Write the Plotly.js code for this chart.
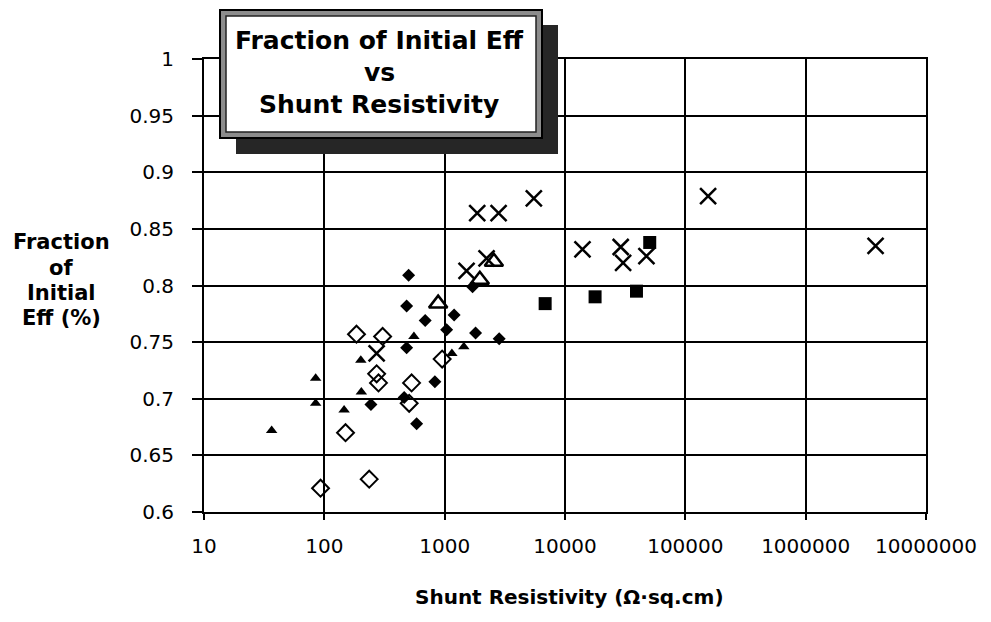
<!DOCTYPE html>
<html>
<head>
<meta charset="utf-8">
<script src="https://cdn.plot.ly/plotly-3.0.1.min.js"></script>
<style>html,body{margin:0;padding:0;background:#fff;}#chart{width:991px;height:622px;}</style>
</head>
<body>
<div id="chart"></div>
<script>
// ---- data ----
const triFilledX = [36.5, 84.7, 84.7, 146, 201, 203, 555, 1148, 1443];
const triFilledY = [0.672, 0.718, 0.696, 0.690, 0.734, 0.706, 0.755, 0.740, 0.746];

const diaFilledX = [502, 483, 689, 1199, 1038, 1807, 2838, 483, 829, 244, 461, 585, 1706];
const diaFilledY = [0.809, 0.782, 0.769, 0.774, 0.761, 0.758, 0.753, 0.745, 0.715, 0.695, 0.701, 0.678, 0.799];

const diaOpenX = [185, 305, 272, 282, 531, 507, 953, 150, 93, 236];
const diaOpenY = [0.757, 0.755, 0.722, 0.714, 0.714, 0.696, 0.735, 0.670, 0.621, 0.629];

const crossX = [272, 1520, 2229, 1864, 2806, 5508, 13970, 29040, 30400, 47500, 154600, 3810000];
const crossY = [0.740, 0.813, 0.824, 0.864, 0.864, 0.877, 0.832, 0.834, 0.820, 0.826, 0.879, 0.835];

const triOpenX = [883, 1960, 2565];
const triOpenY = [0.784, 0.805, 0.821];

const squareX = [6840, 17780, 39260, 50600];
const squareY = [0.784, 0.790, 0.795, 0.838];

const xTickVals = [10, 100, 1000, 10000, 100000, 1000000, 10000000];
const xTickText = ["10", "100", "1000", "10000", "100000", "1000000", "10000000"];
const yTickVals = [0.6, 0.65, 0.7, 0.75, 0.8, 0.85, 0.9, 0.95, 1];
const yTickText = ["0.6", "0.65", "0.7", "0.75", "0.8", "0.85", "0.9", "0.95", "1"];

const titleLines = ["Fraction of Initial Eff", "vs", "Shunt Resistivity"];
const xTitle = "Shunt Resistivity (Ω·sq.cm)";
const yTitleLines = ["Fraction", "of", "Initial", "Eff (%)"];

// ---- layout helpers (pixel -> paper) ----
const L = 204, R = 926, T = 59, B = 512, W = 991, H = 622;
const xp = px => (px - L) / (R - L);
const yp = py => (B - py) / (B - T);

const boldFont = "'DejaVu Sans', 'Liberation Sans', sans-serif";
const tickFont = "'DejaVu Sans', 'Liberation Sans', sans-serif";

function tr(x, y, symbol, size, lw) {
  return {
    x: x, y: y, type: 'scatter', mode: 'markers', hoverinfo: 'skip',
    marker: { symbol: symbol, size: size, color: '#000', line: { color: '#000', width: lw } }
  };
}

const data = [
  tr(triFilledX, triFilledY, 'triangle-up', 10, 0),
  tr(diaFilledX, diaFilledY, 'diamond', 10, 0),
  tr(diaOpenX, diaOpenY, 'diamond-open', 13, 2),
  tr(crossX, crossY, 'x-thin-open', 16, 2.5),
  tr(triOpenX, triOpenY, 'triangle-up-open', 16, 2.5),
  tr(squareX, squareY, 'square', 13, 0)
];

const shapes = [
  // shadow
  { type: 'rect', xref: 'paper', yref: 'paper', layer: 'above',
    x0: xp(236), x1: xp(558), y0: yp(154), y1: yp(25),
    fillcolor: '#262626', line: { width: 0 } },
  // outer patterned border
  { type: 'rect', xref: 'paper', yref: 'paper', layer: 'above',
    x0: xp(220), x1: xp(542), y0: yp(138), y1: yp(10),
    fillcolor: '#8c8c8c', line: { color: '#000', width: 2 } },
  // inner white box
  { type: 'rect', xref: 'paper', yref: 'paper', layer: 'above',
    x0: xp(226), x1: xp(536), y0: yp(132), y1: yp(16),
    fillcolor: '#fff', line: { color: '#222', width: 1.5 } }
];

const annotations = [];
const titleY = [40, 72, 105];
titleLines.forEach((t, i) => annotations.push({
  xref: 'paper', yref: 'paper', x: xp(379), y: yp(titleY[i]), xanchor: 'center', yanchor: 'middle',
  showarrow: false, text: '<b>' + t + '</b>', font: { family: boldFont, size: 25, color: '#000' }
}));
const yTitleY = [242, 268, 293, 318];
yTitleLines.forEach((t, i) => annotations.push({
  xref: 'paper', yref: 'paper', x: xp(61), y: yp(yTitleY[i]), xanchor: 'center', yanchor: 'middle',
  showarrow: false, text: '<b>' + t + '</b>', font: { family: boldFont, size: 21, color: '#000' }
}));
annotations.push({
  xref: 'paper', yref: 'paper', x: xp(569), y: yp(597), xanchor: 'center', yanchor: 'middle',
  showarrow: false, text: '<b>' + xTitle + '</b>', font: { family: boldFont, size: 20, color: '#000' }
});

const layout = {
  width: W, height: H,
  margin: { l: L, r: W - R, t: T, b: H - B, pad: 0 },
  paper_bgcolor: '#fff', plot_bgcolor: '#fff',
  showlegend: false,
  xaxis: {
    type: 'log', range: [1, 7],
    tickvals: xTickVals, ticktext: xTickText,
    showgrid: true, gridcolor: '#000', gridwidth: 2,
    showline: true, linecolor: '#000', linewidth: 2, mirror: true,
    ticks: 'outside', ticklen: 6, tickwidth: 2, tickcolor: '#000',
    ticklabelstandoff: 9,
    tickfont: { family: tickFont, size: 20, color: '#000' },
    zeroline: false, fixedrange: true
  },
  yaxis: {
    range: [0.6, 1],
    tickvals: yTickVals, ticktext: yTickText,
    showgrid: true, gridcolor: '#000', gridwidth: 2,
    showline: true, linecolor: '#000', linewidth: 2, mirror: true,
    ticks: 'outside', ticklen: 10, tickwidth: 2, tickcolor: '#000',
    ticklabelstandoff: 14,
    tickfont: { family: tickFont, size: 20, color: '#000' },
    zeroline: false, fixedrange: true
  },
  shapes: shapes,
  annotations: annotations
};

Plotly.newPlot('chart', data, layout, { staticPlot: true, displayModeBar: false });
</script>
</body>
</html>
